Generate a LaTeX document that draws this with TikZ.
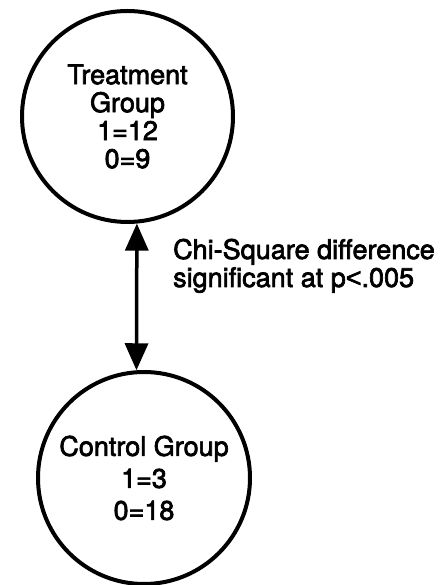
\documentclass[tikz,border=0pt]{standalone}
\usepackage{fontspec}
\setmainfont{TeX Gyre Heros}
\newfontfamily\heavy{TeX Gyre Heros}[FakeBold=2.5]
\newfontfamily\heavylt{Liberation Sans}[FakeBold=2.5]
\newcommand{\lessthan}{{\heavylt<}}
\usetikzlibrary{arrows.meta}
\begin{document}
\begin{tikzpicture}[x=1pt,y=1pt,
  group/.style={circle, draw, line width=4pt, inner sep=0pt, align=center},
  link/.style={line width=3.5pt, {Triangle[length=27pt,width=23pt]}-{Triangle[length=27pt,width=23pt]}}]
  \useasboundingbox (0,0) rectangle (444,585);
  % the two groups
  \node[group, minimum size=211pt,
        font=\heavy\fontsize{27}{28}\selectfont] (treat) at (127.5,468.5)
        {Treatment\\Group\\1=12\\0=9};
  \node[group, minimum size=212pt,
        font=\heavy\fontsize{27}{32}\selectfont] (ctrl) at (144,107)
        {Control Group\\1=3\\0=18};
  % the test between them
  \draw[link] (treat.-85.9) -- (ctrl.94.9);
  \node[anchor=base west, align=left, inner sep=0pt,
        font=\heavy\fontsize{27}{28}\selectfont] (test) at (173,298)
        {Chi-Square difference\\significant at p\lessthan.005};
\end{tikzpicture}
\end{document}
